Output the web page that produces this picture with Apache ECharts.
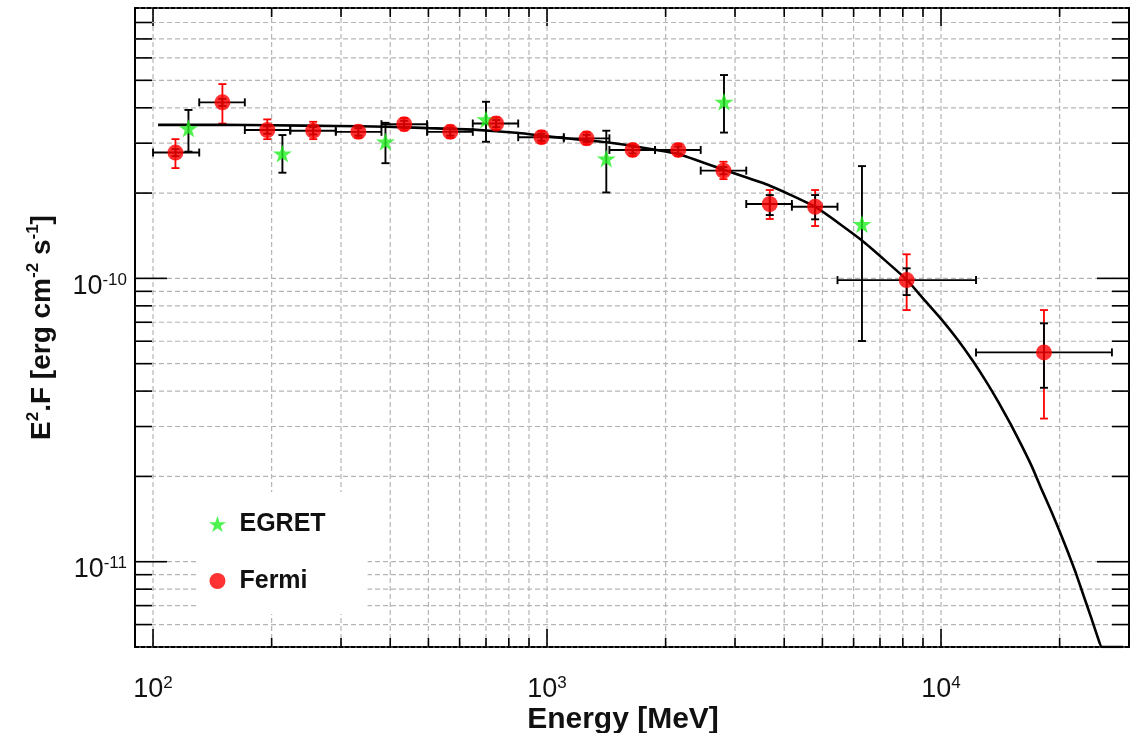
<!DOCTYPE html>
<html>
<head>
<meta charset="utf-8">
<script src="https://cdn.jsdelivr.net/npm/echarts@6/dist/echarts.min.js"></script>
<style>
  html, body { margin: 0; padding: 0; background: #fff; }
  #chart { width: 1137px; height: 733px; }
</style>
</head>
<body>
<div id="chart"></div>
<script>
// ---- Fermi spectral points (MeV, erg cm^-2 s^-1) ----
const fermiEnergy   = [114, 150, 195, 255, 332, 434, 568, 743, 968, 1260, 1649, 2153, 2804, 3676, 4792, 8181, 18250];
const fermiBinLow   = [100, 131, 171, 223, 291, 380, 496, 648, 845, 1103, 1440, 1880, 2455, 3204, 4183, 5461, 12270];
const fermiBinHigh  = [131, 171, 223, 291, 380, 496, 648, 845, 1103, 1440, 1880, 2455, 3204, 4183, 5461, 12270, 27150];
const fermiFlux     = [2.78e-10, 4.18e-10, 3.34e-10, 3.32e-10, 3.29e-10, 3.50e-10, 3.29e-10, 3.52e-10, 3.15e-10, 3.12e-10, 2.84e-10, 2.84e-10, 2.40e-10, 1.83e-10, 1.79e-10, 0.986e-10, 5.48e-11];
// total (statistical + systematic) uncertainty
const fermiTotLow   = [2.45e-10, 3.52e-10, 3.10e-10, 3.10e-10, 3.13e-10, 3.33e-10, 3.13e-10, 3.35e-10, 3.00e-10, 2.97e-10, 2.70e-10, 2.70e-10, 2.24e-10, 1.62e-10, 1.53e-10, 0.773e-10, 3.20e-11];
const fermiTotHigh  = [3.10e-10, 4.85e-10, 3.64e-10, 3.57e-10, 3.46e-10, 3.68e-10, 3.46e-10, 3.70e-10, 3.31e-10, 3.28e-10, 2.98e-10, 2.98e-10, 2.58e-10, 2.05e-10, 2.05e-10, 1.216e-10, 7.73e-11];
// statistical uncertainty only
const fermiStatLow  = [2.70e-10, 4.06e-10, 3.24e-10, 3.22e-10, 3.19e-10, 3.40e-10, 3.19e-10, 3.42e-10, 3.06e-10, 3.03e-10, 2.76e-10, 2.76e-10, 2.33e-10, 1.673e-10, 1.616e-10, 0.873e-10, 4.11e-11];
const fermiStatHigh = [2.86e-10, 4.30e-10, 3.44e-10, 3.42e-10, 3.39e-10, 3.60e-10, 3.39e-10, 3.62e-10, 3.24e-10, 3.21e-10, 2.92e-10, 2.92e-10, 2.47e-10, 1.968e-10, 1.968e-10, 1.085e-10, 6.94e-11];

// ---- EGRET spectral points ----
const egretEnergy = [123, 213, 389, 700, 1414, 2813, 6300];
const egretFlux   = [3.385e-10, 2.76e-10, 3.04e-10, 3.64e-10, 2.65e-10, 4.20e-10, 1.555e-10];
const egretLow    = [2.80e-10, 2.36e-10, 2.55e-10, 3.035e-10, 2.01e-10, 3.27e-10, 6.01e-11];
const egretHigh   = [3.93e-10, 3.205e-10, 3.54e-10, 4.20e-10, 3.32e-10, 5.22e-10, 2.49e-10];

// ---- spectral model curve (power law with exponential cutoff) ----
const fitEnergy = [103, 150, 200, 290, 390, 500, 650, 850, 1000, 1480, 2150, 2800, 3630, 4790, 6300, 8180,
                   9000, 10000, 11000, 12000, 13000, 14000, 15000, 16000, 17000, 18000, 19000, 20000,
                   21000, 22000, 23000, 24000, 25000, 25600, 29000];
const fitFlux   = [3.48e-10, 3.48e-10, 3.47e-10, 3.45e-10, 3.43e-10, 3.39e-10, 3.35e-10, 3.26e-10, 3.17e-10, 3.00e-10, 2.75e-10, 2.42e-10, 2.14e-10, 1.79e-10, 1.36e-10, 9.9e-11,
                   8.5e-11, 7.2e-11, 6.1e-11, 5.15e-11, 4.34e-11, 3.65e-11, 3.07e-11, 2.58e-11, 2.17e-11, 1.80e-11, 1.52e-11, 1.28e-11,
                   1.08e-11, 9.1e-12, 7.6e-12, 6.4e-12, 5.4e-12, 5.0e-12, 5.0e-12];

// ---- axis ranges and decade labels ----
const X_MIN = 90, X_MAX = 30000;
const Y_MIN = 5e-12, Y_MAX = 9e-10;
const xDecades = [2, 3, 4];
const yDecades = [-12, -11, -10];
const gridMultipliers = [1, 2, 3, 4, 5, 6, 7, 8, 9];

const FONT = '"Liberation Sans", Arial, Helvetica, sans-serif';

function gridValues(decades, lo, hi) {
  const out = [];
  decades.forEach(d => gridMultipliers.forEach(m => {
    const v = m * Math.pow(10, d);
    if (v > lo * 1.0001 && v < hi * 0.9999) out.push(v);
  }));
  return out;
}
const xGrid = gridValues(xDecades, X_MIN, X_MAX);
const yGrid = gridValues(yDecades, Y_MIN, Y_MAX);

function isDecade(v) {
  const l = Math.log10(v);
  return Math.abs(l - Math.round(l)) < 1e-6;
}

const GRID_STYLE = { stroke: '#b5b5b5', lineWidth: 1.2, lineDash: [5, 3] };
const TICK_STYLE = { stroke: '#000', lineWidth: 1.6 };

function seg(x1, y1, x2, y2, style) {
  return { type: 'line', shape: { x1, y1, x2, y2 }, style };
}

// vertical grid lines with inner ticks on top and bottom frame
function renderXGrid(params, api) {
  const v = api.value(0);
  const b = api.coord([v, Y_MIN]);
  const t = api.coord([v, Y_MAX]);
  const L = isDecade(v) ? 18 : 9;
  return { type: 'group', children: [
    seg(b[0], b[1], t[0], t[1], GRID_STYLE),
    seg(b[0], b[1], b[0], b[1] - L, TICK_STYLE),
    seg(t[0], t[1], t[0], t[1] + L, TICK_STYLE)
  ]};
}
// horizontal grid lines with inner ticks on left and right frame
function renderYGrid(params, api) {
  const v = api.value(1);
  const l = api.coord([X_MIN, v]);
  const r = api.coord([X_MAX, v]);
  const L = isDecade(v) ? 32 : 17;
  return { type: 'group', children: [
    seg(l[0], l[1], r[0], r[1], GRID_STYLE),
    seg(l[0], l[1], l[0] + L, l[1], TICK_STYLE),
    seg(r[0], r[1], r[0] - L, r[1], TICK_STYLE)
  ]};
}

const CAP = 4;
function vBar(api, x, lo, hi, color, w) {
  const a = api.coord([x, lo]), b = api.coord([x, hi]);
  const st = { stroke: color, lineWidth: w };
  return [
    seg(a[0], a[1], b[0], b[1], st),
    seg(a[0] - CAP, a[1], a[0] + CAP, a[1], st),
    seg(b[0] - CAP, b[1], b[0] + CAP, b[1], st)
  ];
}
function hBar(api, y, lo, hi, color, w) {
  const a = api.coord([lo, y]), b = api.coord([hi, y]);
  const st = { stroke: color, lineWidth: w };
  return [
    seg(a[0], a[1], b[0], b[1], st),
    seg(a[0], a[1] - CAP, a[0], a[1] + CAP, st),
    seg(b[0], b[1] - CAP, b[0], b[1] + CAP, st)
  ];
}

function renderFermiErrors(params, api) {
  const e = api.value(0), f = api.value(1);
  const children = []
    .concat(vBar(api, e, api.value(4), api.value(5), '#ff0000', 1.8))
    .concat(vBar(api, e, api.value(6), api.value(7), '#000', 1.9))
    .concat(hBar(api, f, api.value(2), api.value(3), '#000', 1.9));
  return { type: 'group', children };
}
function renderEgretErrors(params, api) {
  return { type: 'group', children: vBar(api, api.value(0), api.value(2), api.value(3), '#000', 1.9) };
}

const fermiErrData = fermiEnergy.map((e, i) => [e, fermiFlux[i], fermiBinLow[i], fermiBinHigh[i],
  fermiTotLow[i], fermiTotHigh[i], fermiStatLow[i], fermiStatHigh[i]]);
const egretErrData = egretEnergy.map((e, i) => [e, egretFlux[i], egretLow[i], egretHigh[i]]);

const STAR = 'path://M50,0 L61.8,35.1 L98.1,35.1 L68.8,56.8 L79.4,91 L50,70 L20.6,91 L31.2,56.8 L1.9,35.1 L38.2,35.1 Z';

const labelRich = {
  b: { fontSize: 27, fontFamily: FONT, color: '#111', lineHeight: 30 },
  s: { fontSize: 17, fontFamily: FONT, color: '#111', verticalAlign: 'top', lineHeight: 18 }
};
const expLabel = v => '{b|10}{s|' + Math.round(Math.log10(v)) + '}';

const nameRichX = {
  b: { fontSize: 30, fontWeight: 'bold', fontFamily: FONT, color: '#111', lineHeight: 30 }
};
const nameRichY = {
  b: { fontSize: 28, fontWeight: 'bold', fontFamily: FONT, color: '#111', lineHeight: 34 },
  s: { fontSize: 17, fontWeight: 'bold', fontFamily: FONT, color: '#111', verticalAlign: 'top', lineHeight: 20 }
};

const frameX = { show: true, onZero: false, lineStyle: { color: '#000', width: 2, type: [4, 2] } };
const frameY = { show: true, onZero: false, lineStyle: { color: '#000', width: 2 } };

const chart = echarts.init(document.getElementById('chart'), null, { renderer: 'canvas' });
chart.setOption({
  backgroundColor: '#fff',
  animation: false,
  grid: { left: 135, right: 8, top: 8, bottom: 86, containLabel: false, outerBoundsMode: 'none' },
  xAxis: [
    {
      type: 'log', min: X_MIN, max: X_MAX, position: 'bottom',
      axisLine: frameX, axisTick: { show: false }, splitLine: { show: false },
      axisLabel: { showMinLabel: false, showMaxLabel: false, margin: 28, formatter: expLabel, rich: labelRich },
      name: '{b|Energy [MeV]}', nameLocation: 'middle', nameGap: 58, nameMoveOverlap: false,
      nameTextStyle: { rich: nameRichX, padding: [0, 18, 0, 0] }
    },
    {
      type: 'log', min: X_MIN, max: X_MAX, position: 'top',
      axisLine: frameX, axisTick: { show: false }, splitLine: { show: false }, axisLabel: { show: false }
    }
  ],
  yAxis: [
    {
      type: 'log', min: Y_MIN, max: Y_MAX, position: 'left',
      axisLine: frameY, axisTick: { show: false }, splitLine: { show: false },
      axisLabel: { showMinLabel: false, showMaxLabel: false, margin: 8, padding: [16, 0, 0, 0], formatter: expLabel, rich: labelRich },
      name: '{b|E}{s|2}{b|.F [erg cm}{s|-2}{b| s}{s|-1}{b|]}',
      nameLocation: 'middle', nameRotate: 90, nameGap: 76, nameMoveOverlap: false,
      nameTextStyle: { rich: nameRichY }
    },
    {
      type: 'log', min: Y_MIN, max: Y_MAX, position: 'right',
      axisLine: frameY, axisTick: { show: false }, splitLine: { show: false }, axisLabel: { show: false }
    }
  ],
  legend: {
    orient: 'vertical', left: 199, top: 492,
    padding: [17, 42, 18, 10], itemGap: 27,
    itemWidth: 34, itemHeight: 16,
    backgroundColor: '#fff',
    textStyle: { fontSize: 25, fontWeight: 'bold', fontFamily: FONT, color: '#111', lineHeight: 30 },
    data: [
      { name: 'EGRET', icon: STAR },
      { name: 'Fermi', icon: 'circle' }
    ],
    selectedMode: false
  },
  series: [
    {
      type: 'custom', silent: true, z: 1, clip: false,
      data: xGrid.map(v => [v, Y_MIN]), encode: { x: 0, y: 1 },
      renderItem: renderXGrid
    },
    {
      type: 'custom', silent: true, z: 1, clip: false,
      data: yGrid.map(v => [X_MIN, v]), encode: { x: 0, y: 1 },
      renderItem: renderYGrid
    },
    {
      type: 'custom', silent: true, z: 2, clip: false,
      data: egretErrData, encode: { x: 0, y: 1 },
      renderItem: renderEgretErrors
    },
    {
      type: 'custom', silent: true, z: 2, clip: false,
      data: fermiErrData, encode: { x: 0, y: 1 },
      renderItem: renderFermiErrors
    },
    {
      type: 'line', silent: true, z: 3, clip: true,
      data: fitEnergy.map((e, i) => [e, fitFlux[i]]),
      showSymbol: false, symbol: 'none', smooth: 0.15,
      lineStyle: { color: '#000', width: 2.6 }
    },
    {
      name: 'EGRET', type: 'scatter', z: 5,
      data: egretEnergy.map((e, i) => [e, egretFlux[i]]),
      symbol: STAR, symbolSize: 19, symbolKeepAspect: true,
      itemStyle: { color: '#22f022' }
    },
    {
      name: 'Fermi', type: 'scatter', z: 5,
      data: fermiEnergy.map((e, i) => [e, fermiFlux[i]]),
      symbol: 'circle', symbolSize: 16,
      itemStyle: { color: '#ff0000' }
    }
  ]
});
</script>
</body>
</html>
